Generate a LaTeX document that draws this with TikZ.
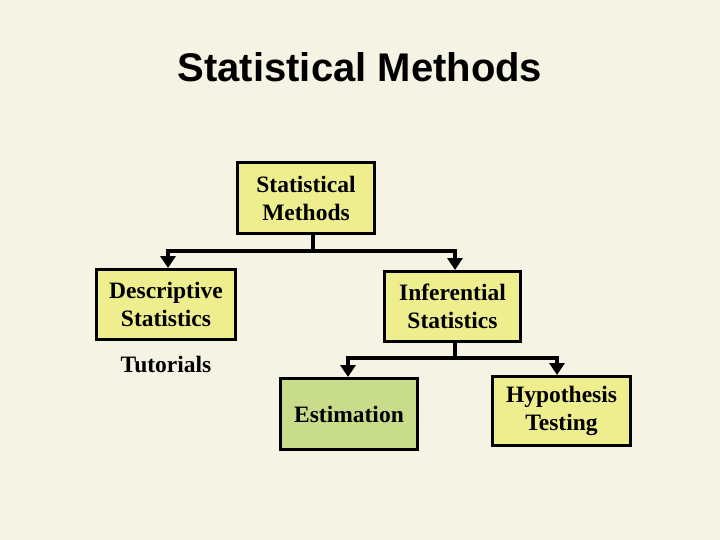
\documentclass[tikz,border=0pt]{standalone}
\usepackage{fontspec}
\setmainfont{Liberation Serif}
\newfontfamily\titlefont{Liberation Sans}
\usetikzlibrary{arrows.meta}
\definecolor{bgc}{RGB}{245,243,227}
\definecolor{boxy}{RGB}{238,238,142}
\definecolor{boxg}{RGB}{200,220,140}
\tikzset{
  box/.style={draw=black, line width=3pt, fill=boxy, align=center,
    font=\fontsize{23.5}{28}\selectfont\bfseries, inner sep=0pt},
  conn/.style={line width=4pt},
  arr/.style={line width=4pt, -{Triangle[width=15pt,length=12pt]}},
}
\begin{document}
\begin{tikzpicture}[x=1pt,y=-1pt]
\fill[bgc] (0,0) rectangle (720,540);
\useasboundingbox (0,0) rectangle (720,540);
\node[font=\titlefont\fontsize{40}{48}\selectfont\bfseries, anchor=base] (title) at (360,82) {Statistical Methods};
\node[box, minimum width=137pt, minimum height=71pt] (top) at (306,198) {Statistical\\Methods};
\node[box, minimum width=139pt, minimum height=70pt] (desc) at (166,304.5) {Descriptive\\Statistics};
\node[box, minimum width=136pt, minimum height=70pt] (inf) at (452.5,306.5) {Inferential\\Statistics};
\node[box, fill=boxg, minimum width=137pt, minimum height=71pt] (est) at (349,414) {Estimation};
\node[box, minimum width=138pt, minimum height=69pt] (hyp) at (561.5,411) {Hypothesis\\Testing};
\node[font=\fontsize{23.5}{28}\selectfont\bfseries] (tut) at (166,364) {Tutorials};
\coordinate (j1) at ([xshift=7pt,yshift=-16pt]top.south);
\draw[conn] ([xshift=7pt]top.south) -- (j1);
\draw[arr] (j1) -| ([xshift=2pt]desc.north);
\draw[arr] (j1) -| ([xshift=2.5pt]inf.north);
\coordinate (j2) at ([xshift=2.5pt,yshift=-15pt]inf.south);
\draw[conn] ([xshift=2.5pt]inf.south) -- (j2);
\draw[arr] (j2) -| ([xshift=-1pt]est.north);
\draw[arr] (j2) -| ([xshift=-4.5pt]hyp.north);
\end{tikzpicture}
\end{document}
